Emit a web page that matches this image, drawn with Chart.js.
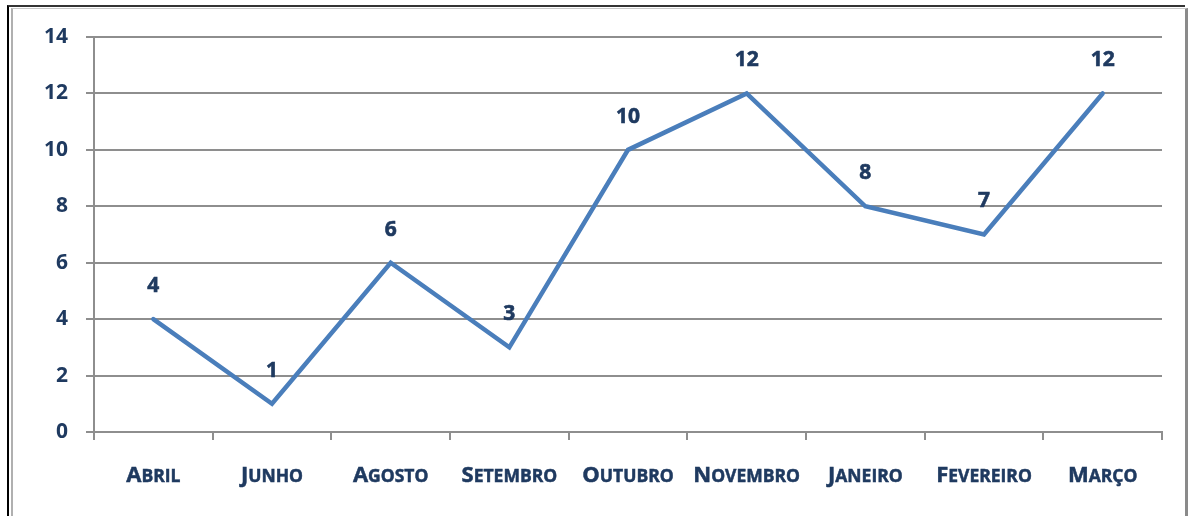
<!DOCTYPE html>
<html>
<head>
<meta charset="utf-8">
<script src="https://cdn.jsdelivr.net/npm/chart.js@4/dist/chart.umd.min.js"></script>
<style>
  html, body { margin:0; padding:0; background:#fff; overflow:hidden; }
  #wrap { position:absolute; left:0; top:0; width:1192px; height:516px; }
  #outer { position:absolute; left:7px; top:5px; width:1176px; height:600px;
           border-left:2px solid #000; border-top:2px solid #333; }
  #inner { position:absolute; left:11px; top:8px; width:1172px; height:600px;
           border-left:2px solid #b0b0b0; border-top:1px solid #c8c8c8; border-right:3px solid #8a8a8a; }
  canvas { position:absolute; left:0; top:0; }
</style>
</head>
<body>
<div id="wrap">
  <div id="outer"></div>
  <div id="inner"></div>
  <canvas id="c" width="1192" height="516"></canvas>
</div>
<script>
const categories = ["Abril", "Junho", "Agosto", "Setembro", "Outubro", "Novembro", "Janeiro", "Fevereiro", "Março"];
const values = [4, 1, 6, 3, 10, 12, 8, 7, 12];
const yTicks = [0, 2, 4, 6, 8, 10, 12, 14];

const NAVY = '#1F3A60';
const GRID = '#8e8e8e';
const FAMILY = "'Open Sans'";

function heavyText(ctx, txt, x, y) {
  ctx.fillText(txt, x, y);
  ctx.strokeText(txt, x, y);
}

const dataLabels = {
  id: 'dataLabels',
  afterDatasetsDraw(chart) {
    const ctx = chart.ctx;
    const meta = chart.getDatasetMeta(0);
    ctx.save();
    ctx.font = "bold 21px " + FAMILY;
    ctx.fillStyle = NAVY;
    ctx.strokeStyle = NAVY;
    ctx.lineWidth = 0.6;
    ctx.textAlign = 'center';
    ctx.textBaseline = 'middle';
    meta.data.forEach((pt, i) => {
      heavyText(ctx, String(values[i]), pt.x, pt.y - 33);
    });
    ctx.restore();
  }
};

// x-axis labels in small caps: first letter full size, rest uppercase at a smaller size
const smallCapsLabels = {
  id: 'smallCapsLabels',
  afterDraw(chart) {
    const ctx = chart.ctx;
    const xs = chart.scales.x;
    const big = "bold 22px " + FAMILY;
    const small = "bold 17.5px " + FAMILY;
    const baseline = xs.top + 50;
    ctx.save();
    ctx.fillStyle = NAVY;
    ctx.strokeStyle = NAVY;
    ctx.lineWidth = 0.5;
    ctx.textBaseline = 'alphabetic';
    ctx.textAlign = 'left';
    categories.forEach((lab, i) => {
      const first = lab.charAt(0).toUpperCase();
      const rest = lab.slice(1).toUpperCase();
      ctx.font = big; const w1 = ctx.measureText(first).width;
      ctx.font = small; const w2 = ctx.measureText(rest).width;
      const cx = xs.getPixelForValue(i);
      let x = cx - (w1 + w2) / 2;
      ctx.font = big; heavyText(ctx, first, x, baseline);
      ctx.font = small; heavyText(ctx, rest, x + w1, baseline);
    });
    ctx.restore();
  }
};

new Chart(document.getElementById('c'), {
  type: 'line',
  data: {
    labels: categories,
    datasets: [{
      data: values,
      borderColor: '#4A7EBB',
      borderWidth: 4.5,
      pointRadius: 0,
      tension: 0,
      fill: false,
      borderCapStyle: 'round',
      borderJoinStyle: 'miter'
    }]
  },
  options: {
    responsive: false,
    animation: false,
    devicePixelRatio: 1,
    layout: { padding: { left: 0, right: 30, top: 37, bottom: 0 } },
    plugins: { legend: { display: false }, tooltip: { enabled: false } },
    scales: {
      x: {
        offset: true,
        afterFit(scale) { scale.height = 84; },
        grid: { display: true, offset: true, drawOnChartArea: false, drawTicks: true, tickLength: 8, color: GRID, lineWidth: 2 },
        border: { display: true, color: GRID, width: 2 },
        ticks: { display: false, autoSkip: false }
      },
      y: {
        min: 0, max: 14,
        afterFit(scale) { scale.width = 94; },
        afterBuildTicks(scale) { scale.ticks = yTicks.map(v => ({ value: v })); },
        grid: { color: GRID, lineWidth: 2, drawTicks: true, tickLength: 8 },
        border: { display: true, color: GRID, width: 2 },
        ticks: { color: NAVY, padding: 18,
                 font: { family: FAMILY, size: 21, weight: 'bold' } }
      }
    }
  },
  plugins: [dataLabels, smallCapsLabels]
});
</script>
</body>
</html>
